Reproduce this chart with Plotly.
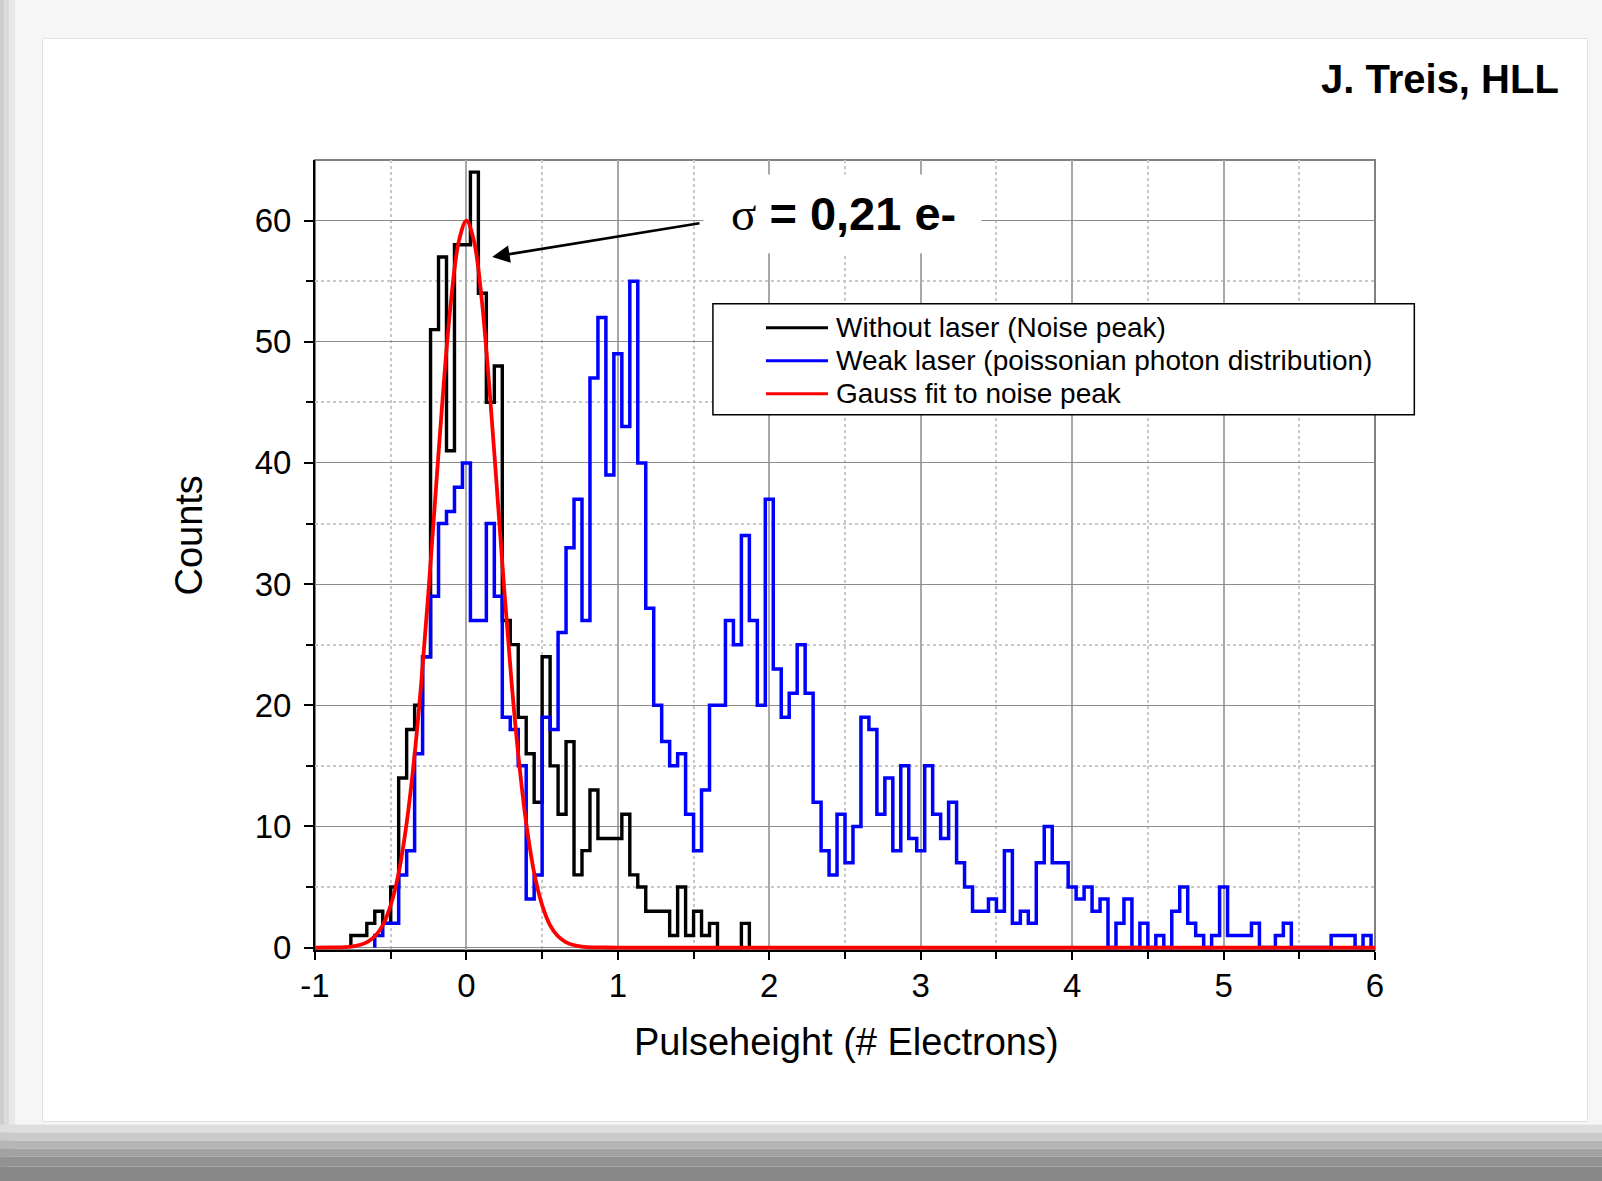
import plotly.graph_objects as go

# --- data ------------------------------------------------------------------
bin_width = 1 / 19          # electrons per histogram bin
black_first_bin = -14       # index of first bin (center = index * bin_width)
black_counts = [1, 1, 2, 3, 2, 5, 14, 18, 20, 24, 51, 57, 41, 58, 58, 64, 54, 45,
                48, 27, 25, 19, 16, 12, 24, 15, 11, 17, 6, 8, 13, 9, 9, 9, 11, 6,
                5, 3, 3, 3, 1, 5, 1, 3, 1, 2, 0, 0, 0, 2]

blue_first_bin = -11
blue_counts = [1, 2, 2, 6, 8, 16, 24, 29, 35, 36, 38, 40, 27, 27, 35, 29, 19, 18,
               15, 4, 6, 19, 18, 26, 33, 37, 27, 47, 52, 39, 49, 43, 55, 40, 28,
               20, 17, 15, 16, 11, 8, 13, 20, 20, 27, 25, 34, 27, 20, 37, 23, 19,
               21, 25, 21, 12, 8, 6, 11, 7, 10, 19, 18, 11, 14, 8, 15, 9, 8, 15,
               11, 9, 12, 7, 5, 3, 3, 4, 3, 8, 2, 3, 2, 7, 10, 7, 7, 5, 4, 5, 3,
               4, 0, 2, 4, 0, 2, 0, 1, 0, 3, 5, 2, 1, 0, 1, 5, 1, 1, 1, 2, 0, 0,
               1, 2, 0, 0, 0, 0, 0, 1, 1, 1, 0, 1]

fit_x = [-1.0, -0.9, -0.8, -0.75, -0.7, -0.65, -0.6, -0.55, -0.5, -0.45, -0.4,
         -0.35, -0.3, -0.25, -0.2, -0.15, -0.1, -0.05, 0.0, 0.05, 0.1, 0.15,
         0.2, 0.25, 0.3, 0.35, 0.4, 0.45, 0.5, 0.55, 0.6, 0.65, 0.7, 0.75,
         0.8, 0.9, 1.0, 6.0]
fit_y = [0.0, 0.01, 0.04, 0.1, 0.23, 0.5, 1.0, 1.9, 3.5, 6.0, 9.8, 15.0, 21.6,
         29.5, 38.1, 46.5, 53.6, 58.3, 60.0, 58.3, 53.6, 46.5, 38.1, 29.5, 21.6,
         15.0, 9.8, 6.0, 3.5, 1.9, 1.0, 0.5, 0.23, 0.1, 0.04, 0.01, 0.0, 0.0]

x_ticks = [-1, 0, 1, 2, 3, 4, 5, 6]
x_tick_labels = ["-1", "0", "1", "2", "3", "4", "5", "6"]
x_minor = [-0.5, 0.5, 1.5, 2.5, 3.5, 4.5, 5.5]
y_ticks = [0, 10, 20, 30, 40, 50, 60]
y_minor = [5, 15, 25, 35, 45, 55]

legend_names = ["Without laser (Noise peak)",
                "Weak laser (poissonian photon distribution)",
                "Gauss fit to noise peak"]
legend_colors = ["black", "#0000ff", "#ff0000"]

# --- geometry of the page ---------------------------------------------------
W, H = 1602, 1181
PX_L, PX_R = 315.3, 1374.7
PY_T, PY_B = 160.4, 949.7
FONT = "Liberation Sans, Arial, sans-serif"


def px(x):
    return (x - PX_L) / (PX_R - PX_L)


def py(y):
    return (PY_B - y) / (PY_B - PY_T)


def step_xy(first_bin, counts):
    edges = [(first_bin + i - 0.5) * bin_width for i in range(len(counts) + 1)]
    xs = [edges[0]] + edges[:-1] + [edges[-1]]
    ys = [0] + list(counts) + [0]
    return xs, ys


fig = go.Figure()

bx, by = step_xy(black_first_bin, black_counts)
fig.add_trace(go.Scatter(x=bx, y=by, mode="lines", line_shape="hv",
                         line=dict(color="black", width=3.4), name=legend_names[0],
                         showlegend=False))
ux, uy = step_xy(blue_first_bin, blue_counts)
fig.add_trace(go.Scatter(x=ux, y=uy, mode="lines", line_shape="hv",
                         line=dict(color="#0000ff", width=3.5), name=legend_names[1],
                         showlegend=False))
fig.add_trace(go.Scatter(x=fit_x, y=fit_y, mode="lines", line_shape="spline",
                         line=dict(color="#ff0000", width=3.8), name=legend_names[2],
                         showlegend=False))

shapes = []
# page background with drop-shadow look
for x0, x1, c in [(0, 5, "#cdcdcd"), (5, 10, "#dadada"), (10, 16, "#e8e8e8")]:
    shapes.append(dict(type="rect", xref="paper", yref="paper", layer="below",
                       x0=px(x0), x1=px(x1), y0=py(H), y1=py(0),
                       fillcolor=c, line=dict(width=0)))
shapes.append(dict(type="rect", xref="paper", yref="paper", layer="below",
                   x0=px(16), x1=px(W), y0=py(1124), y1=py(0),
                   fillcolor="#f6f6f6", line=dict(width=0)))
shapes.append(dict(type="rect", xref="paper", yref="paper", layer="below",
                   x0=px(43), x1=px(1587), y0=py(1121), y1=py(39),
                   fillcolor="white", line=dict(color="#e2e2e2", width=1)))
for y0, y1, c in [(1124, 1132, "#dedede"), (1132, 1140, "#cacaca"),
                  (1140, 1148, "#b6b6b6"), (1148, 1156, "#a2a2a2"),
                  (1156, 1166, "#929292"), (1166, H, "#888888")]:
    shapes.append(dict(type="rect", xref="paper", yref="paper", layer="below",
                       x0=px(0), x1=px(W), y0=py(y1), y1=py(y0),
                       fillcolor=c, line=dict(width=0)))
# grey frame on top/right of the plot
shapes.append(dict(type="rect", xref="paper", yref="paper", layer="below",
                   x0=0, x1=1, y0=0, y1=1, line=dict(color="#808080", width=2)))
# white box behind the sigma label
shapes.append(dict(type="rect", xref="x", yref="y", layer="above",
                   x0=1.565, x1=3.40, y0=57.3, y1=63.8,
                   fillcolor="white", line=dict(width=0)))
# legend box
shapes.append(dict(type="rect", xref="paper", yref="paper", layer="above",
                   x0=px(713), x1=px(1414), y0=py(415), y1=py(304),
                   fillcolor="white", line=dict(color="black", width=1.5)))
row_y = [328, 361, 394]
for yy, col in zip(row_y, legend_colors):
    shapes.append(dict(type="line", xref="paper", yref="paper", layer="above",
                       x0=px(766), x1=px(828), y0=py(yy), y1=py(yy),
                       line=dict(color=col, width=3)))

annotations = []
for yy, name in zip(row_y, legend_names):
    annotations.append(dict(xref="paper", yref="paper", x=px(834), y=py(yy),
                            text=name, showarrow=False, xanchor="left",
                            yanchor="middle", font=dict(family=FONT, size=28,
                                                        color="black")))
annotations.append(dict(xref="paper", yref="paper", x=px(1561), y=py(79),
                        text="<b>J. Treis, HLL</b>", showarrow=False,
                        xanchor="right", yanchor="middle",
                        font=dict(family=FONT, size=40, color="black")))
annotations.append(dict(xref="x", yref="y", x=2.487, y=60.6,
                        text='<span style="font-family:Liberation Serif, Times New Roman, serif;'
                             'font-weight:normal">σ</span><b> = 0,21 e-</b>',
                        showarrow=False, xanchor="center", yanchor="middle",
                        font=dict(family=FONT, size=47, color="black")))
annotations.append(dict(xref="x", yref="y", x=0.17, y=57.0,
                        axref="x", ayref="y", ax=1.549, ay=59.8,
                        text="", showarrow=True, arrowhead=2, arrowsize=1.4,
                        arrowwidth=2.5, arrowcolor="black", standoff=0))
annotations.append(dict(xref="paper", yref="paper", x=px(846), y=py(1042),
                        text="Pulseheight (# Electrons)", showarrow=False,
                        xanchor="center", yanchor="middle",
                        font=dict(family=FONT, size=38, color="black")))
annotations.append(dict(xref="paper", yref="paper", x=px(189), y=py(536),
                        text="Counts", showarrow=False, textangle=-90,
                        xanchor="center", yanchor="middle",
                        font=dict(family=FONT, size=38, color="black")))

fig.update_layout(
    template="none",
    width=W, height=H,
    margin=dict(l=PX_L, r=W - PX_R, t=PY_T, b=H - PY_B, autoexpand=False),
    paper_bgcolor="white",
    plot_bgcolor="white",
    showlegend=False,
    shapes=shapes,
    annotations=annotations,
    font=dict(family=FONT, color="black"),
)

fig.update_xaxes(
    range=[-1, 6], tickmode="array", tickvals=x_ticks, ticktext=x_tick_labels,
    showline=True, linecolor="black", linewidth=2,
    ticks="outside", ticklen=8, tickwidth=2, tickcolor="black",
    ticklabelstandoff=-3, tickfont=dict(family=FONT, size=33, color="black"),
    showgrid=True, gridcolor="#a8a8a8", gridwidth=2, zeroline=False,
    minor=dict(tickmode="array", tickvals=x_minor, ticks="outside", ticklen=7,
               tickwidth=2, tickcolor="black", showgrid=True,
               gridcolor="#c8c8c8", gridwidth=1.5, griddash="dot"),
)
fig.update_yaxes(
    range=[-0.2, 65], tickmode="array", tickvals=y_ticks,
    showline=True, linecolor="black", linewidth=2,
    ticks="outside", ticklen=9, tickwidth=2, tickcolor="black",
    ticklabelstandoff=6, tickfont=dict(family=FONT, size=33, color="black"),
    showgrid=True, gridcolor="#8c8c8c", gridwidth=1.2, zeroline=False,
    minor=dict(tickmode="array", tickvals=y_minor, ticks="outside", ticklen=7,
               tickwidth=2, tickcolor="black", showgrid=True,
               gridcolor="#c8c8c8", gridwidth=1.5, griddash="dot"),
)

# the page's default body margin would shift the figure by 8 px
fig.write_html("out.html", config={"displayModeBar": False},
               post_script="document.body.style.margin='0';")
